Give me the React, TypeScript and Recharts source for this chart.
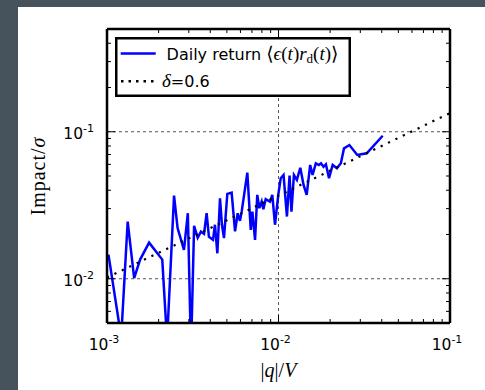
import React from 'react';
import { LineChart, Line, XAxis, YAxis, ReferenceLine, Legend } from 'recharts';

// |q|/V values of the daily-return curve
const qOverV = [
  0.00102, 0.00121, 0.00132, 0.00144, 0.00156, 0.00176, 0.0021, 0.00224, 0.00246, 0.00258,
  0.00281, 0.00296, 0.00309, 0.00322, 0.00338, 0.00353, 0.00368, 0.00381, 0.00393, 0.00415,
  0.00426, 0.0044, 0.00456, 0.00468, 0.00481, 0.00503, 0.00533, 0.00558, 0.00578, 0.00596,
  0.0061, 0.00658, 0.00689, 0.00704, 0.0073, 0.00752, 0.00773, 0.00798, 0.00816, 0.00842,
  0.00892, 0.0092, 0.00954, 0.00997, 0.0103, 0.0107, 0.0112, 0.0116, 0.0119, 0.0123,
  0.0128, 0.0134, 0.014, 0.0146, 0.0153, 0.0158, 0.0165, 0.0172, 0.0177, 0.0183,
  0.0189, 0.0197, 0.0207, 0.0219, 0.0231, 0.0241, 0.0259, 0.0288, 0.0327, 0.0405,
];
// Impact/sigma of the daily-return curve
const impact = [
  0.0146, 0.004, 0.0245, 0.0101, 0.0135, 0.0176, 0.0135, 0.0038, 0.0368, 0.0221,
  0.0157, 0.0279, 0.0032, 0.0229, 0.019, 0.0209, 0.0202, 0.0279, 0.0193, 0.0184,
  0.0233, 0.0149, 0.0353, 0.0233, 0.0189, 0.0378, 0.0385, 0.021, 0.0279, 0.0248,
  0.0286, 0.0527, 0.0215, 0.0286, 0.0184, 0.0372, 0.0302, 0.0335, 0.0297, 0.0348,
  0.0335, 0.0372, 0.0233, 0.0372, 0.0483, 0.0508, 0.0265, 0.0503, 0.0286, 0.0508,
  0.047, 0.0569, 0.0435, 0.0372, 0.0594, 0.0508, 0.061, 0.0594, 0.061, 0.0578,
  0.0601, 0.0483, 0.0594, 0.0564, 0.061, 0.0771, 0.0812, 0.0695, 0.0714, 0.0939,
];

// delta = 0.6 reference curve
const fitQ = [0.001, 0.01, 0.1];
const fitImpact = [0.0102, 0.0368, 0.134];

const xMajorTicks = [0.001, 0.01, 0.1];
const xMajorLabels = ['-3', '-2', '-1'];
const xMinorTicks = [0.002, 0.003, 0.004, 0.005, 0.006, 0.007, 0.008, 0.009, 0.02, 0.03, 0.04, 0.05, 0.06, 0.07, 0.08, 0.09];
const yMajorTicks = [0.01, 0.1];
const yMajorLabels = ['-2', '-1'];
const yMinorTicks = [0.006, 0.007, 0.008, 0.009, 0.02, 0.03, 0.04, 0.05, 0.06, 0.07, 0.08, 0.09, 0.2, 0.3, 0.4];
const xGridValues = [0.01];
const yGridValues = [0.01, 0.1];

const legendLabels = ['Daily return', '=0.6'];

const dailyData = qOverV.map((q, i) => ({ q, impact: impact[i] }));
const fitData = fitQ.map((q, i) => ({ q, fit: fitImpact[i] }));

const xAll = [...xMajorTicks, ...xMinorTicks].sort((a, b) => a - b);
const yAll = [...yMajorTicks, ...yMinorTicks].sort((a, b) => a - b);

const near = (a: number, b: number) => Math.abs(Math.log10(a) - Math.log10(b)) < 1e-6;
const majorIndex = (v: number, majors: number[]) => majors.findIndex((m) => near(m, v));

const TICK_FONT = 'DejaVu Sans, sans-serif';
const SERIF = 'Liberation Serif, DejaVu Serif, serif';

const BottomTick = (props: any) => {
  const { x, y, payload } = props;
  const idx = majorIndex(payload.value, xMajorTicks);
  const major = idx >= 0;
  return (
    <g>
      <line x1={x} x2={x} y1={y} y2={y - (major ? 8 : 4)} stroke="#000" strokeWidth={1} />
      {major && (
        <text x={x - 3} y={y + 27} textAnchor="middle" fontFamily={TICK_FONT} fontSize={15.5} fill="#000">
          <tspan>10</tspan>
          <tspan dy={-7.5} fontSize={11}>{xMajorLabels[idx]}</tspan>
        </text>
      )}
    </g>
  );
};

const TopTick = (props: any) => {
  const { x, y, payload } = props;
  const major = majorIndex(payload.value, xMajorTicks) >= 0;
  return <line x1={x} x2={x} y1={y} y2={y + (major ? 8 : 4)} stroke="#000" strokeWidth={1} />;
};

const LeftTick = (props: any) => {
  const { x, y, payload } = props;
  const idx = majorIndex(payload.value, yMajorTicks);
  const major = idx >= 0;
  return (
    <g>
      <line x1={x} x2={x + (major ? 8 : 4)} y1={y} y2={y} stroke="#000" strokeWidth={1} />
      {major && (
        <text x={x - 13} y={y + 7.5} textAnchor="end" fontFamily={TICK_FONT} fontSize={15.5} fill="#000">
          <tspan>10</tspan>
          <tspan dy={-7.5} fontSize={11}>{yMajorLabels[idx]}</tspan>
        </text>
      )}
    </g>
  );
};

const RightTick = (props: any) => {
  const { x, y, payload } = props;
  const major = majorIndex(payload.value, yMajorTicks) >= 0;
  return <line x1={x} x2={x - (major ? 8 : 4)} y1={y} y2={y} stroke="#000" strokeWidth={1} />;
};

const YTitle = (props: any) => {
  const vb = props.viewBox || {};
  const x = vb.x + 26.5;
  const y = vb.y + vb.height / 2;
  return (
    <text x={x} y={y} transform={`rotate(-90, ${x}, ${y})`} textAnchor="middle" fontFamily={SERIF} fontSize={20} letterSpacing={1} fill="#000">
      <tspan>Impact/</tspan>
      <tspan fontStyle="italic">σ</tspan>
    </text>
  );
};

const XTitle = (props: any) => {
  const vb = props.viewBox || {};
  const x = vb.x + vb.width / 2;
  const y = vb.y + 54;
  return (
    <text x={x} y={y} textAnchor="middle" fontFamily={SERIF} fontSize={20} fill="#000">
      <tspan>|</tspan>
      <tspan fontStyle="italic">q</tspan>
      <tspan>|/</tspan>
      <tspan fontStyle="italic">V</tspan>
    </text>
  );
};

const M = 19;
const LegendBox = () => (
  <svg width={236} height={60} style={{ display: 'block' }}>
    <rect x={1.25} y={1.25} width={233.5} height={57.5} fill="#fff" stroke="#000" strokeWidth={2.5} />
    <line x1={5.7} x2={40.7} y1={16.6} y2={16.6} stroke="#0000ff" strokeWidth={2.5} />
    <text x={51.6} y={22.6} fontFamily={TICK_FONT} fontSize={16} fill="#000">
      <tspan>{legendLabels[0]} </tspan>
      <tspan fontFamily={SERIF} fontSize={M}>⟨</tspan>
      <tspan fontFamily={SERIF} fontSize={M} fontStyle="italic">ϵ</tspan>
      <tspan fontFamily={SERIF} fontSize={M}>(</tspan>
      <tspan fontFamily={SERIF} fontSize={M} fontStyle="italic">t</tspan>
      <tspan fontFamily={SERIF} fontSize={M}>)</tspan>
      <tspan fontFamily={SERIF} fontSize={M} fontStyle="italic">r</tspan>
      <tspan fontFamily={SERIF} fontSize={13} dy={3}>d</tspan>
      <tspan fontFamily={SERIF} fontSize={M} dy={-3}>(</tspan>
      <tspan fontFamily={SERIF} fontSize={M} fontStyle="italic">t</tspan>
      <tspan fontFamily={SERIF} fontSize={M}>)⟩</tspan>
    </text>
    <line x1={6} x2={42} y1={44.3} y2={44.3} stroke="#000" strokeWidth={2.5} strokeDasharray="2.5 5" />
    <text x={47} y={50} fontFamily={TICK_FONT} fontSize={16} fill="#000">
      <tspan fontFamily={SERIF} fontSize={M} fontStyle="italic">δ</tspan>
      <tspan>{legendLabels[1]}</tspan>
    </text>
  </svg>
);

const axisLine = { stroke: '#000', strokeWidth: 2.5 };

export default function App() {
  return (
    <div style={{ position: 'absolute', left: 0, top: 0, width: 485, height: 390, background: '#46525c' }}>
      <div style={{ position: 'absolute', left: 18, top: 7, width: 467, height: 383, background: '#fff' }}>
        <LineChart width={467} height={383} margin={{ top: 0, right: 0, bottom: 0, left: 0 }}>
          <XAxis
            xAxisId="bottom"
            dataKey="q"
            type="number"
            scale="log"
            domain={[0.001, 0.1]}
            allowDataOverflow
            ticks={xAll}
            interval={0}
            tickSize={0}
            tickMargin={0}
            tickLine={false}
            axisLine={axisLine}
            tick={(p: any) => <BottomTick {...p} />}
            height={67}
            label={{ content: (p: any) => <XTitle {...p} /> }}
          />
          <XAxis
            xAxisId="top"
            orientation="top"
            dataKey="q"
            type="number"
            scale="log"
            domain={[0.001, 0.1]}
            allowDataOverflow
            ticks={xAll}
            interval={0}
            tickSize={0}
            tickMargin={0}
            tickLine={false}
            axisLine={axisLine}
            tick={(p: any) => <TopTick {...p} />}
            height={22}
          />
          <YAxis
            yAxisId="left"
            type="number"
            scale="log"
            domain={[0.005, 0.5]}
            allowDataOverflow
            ticks={yAll}
            interval={0}
            tickSize={0}
            tickMargin={0}
            tickLine={false}
            axisLine={axisLine}
            tick={(p: any) => <LeftTick {...p} />}
            width={89}
            label={{ content: (p: any) => <YTitle {...p} /> }}
          />
          <YAxis
            yAxisId="right"
            orientation="right"
            type="number"
            scale="log"
            domain={[0.005, 0.5]}
            allowDataOverflow
            ticks={yAll}
            interval={0}
            tickSize={0}
            tickMargin={0}
            tickLine={false}
            axisLine={axisLine}
            tick={(p: any) => <RightTick {...p} />}
            width={35}
          />
          {yGridValues.map((v) => (
            <ReferenceLine key={`gy${v}`} xAxisId="bottom" yAxisId="left" y={v} stroke="#555" strokeWidth={1} strokeDasharray="3 3" />
          ))}
          {xGridValues.map((v) => (
            <ReferenceLine key={`gx${v}`} xAxisId="bottom" yAxisId="left" x={v} stroke="#555" strokeWidth={1} strokeDasharray="3 3" />
          ))}
          <Line
            xAxisId="bottom"
            yAxisId="left"
            data={dailyData}
            dataKey="impact"
            type="linear"
            stroke="#0000ff"
            strokeWidth={2.5}
            dot={false}
            isAnimationActive={false}
          />
          <Line
            xAxisId="top"
            yAxisId="right"
            data={fitData}
            dataKey="fit"
            type="linear"
            stroke="#000"
            strokeWidth={2.2}
            strokeDasharray="2.2 6"
            dot={false}
            isAnimationActive={false}
          />
          <Legend
            layout="horizontal"
            verticalAlign="middle"
            align="center"
            content={() => <LegendBox />}
            wrapperStyle={{ left: 97, top: 29.7, width: 236, height: 60 }}
          />
        </LineChart>
      </div>
    </div>
  );
}
